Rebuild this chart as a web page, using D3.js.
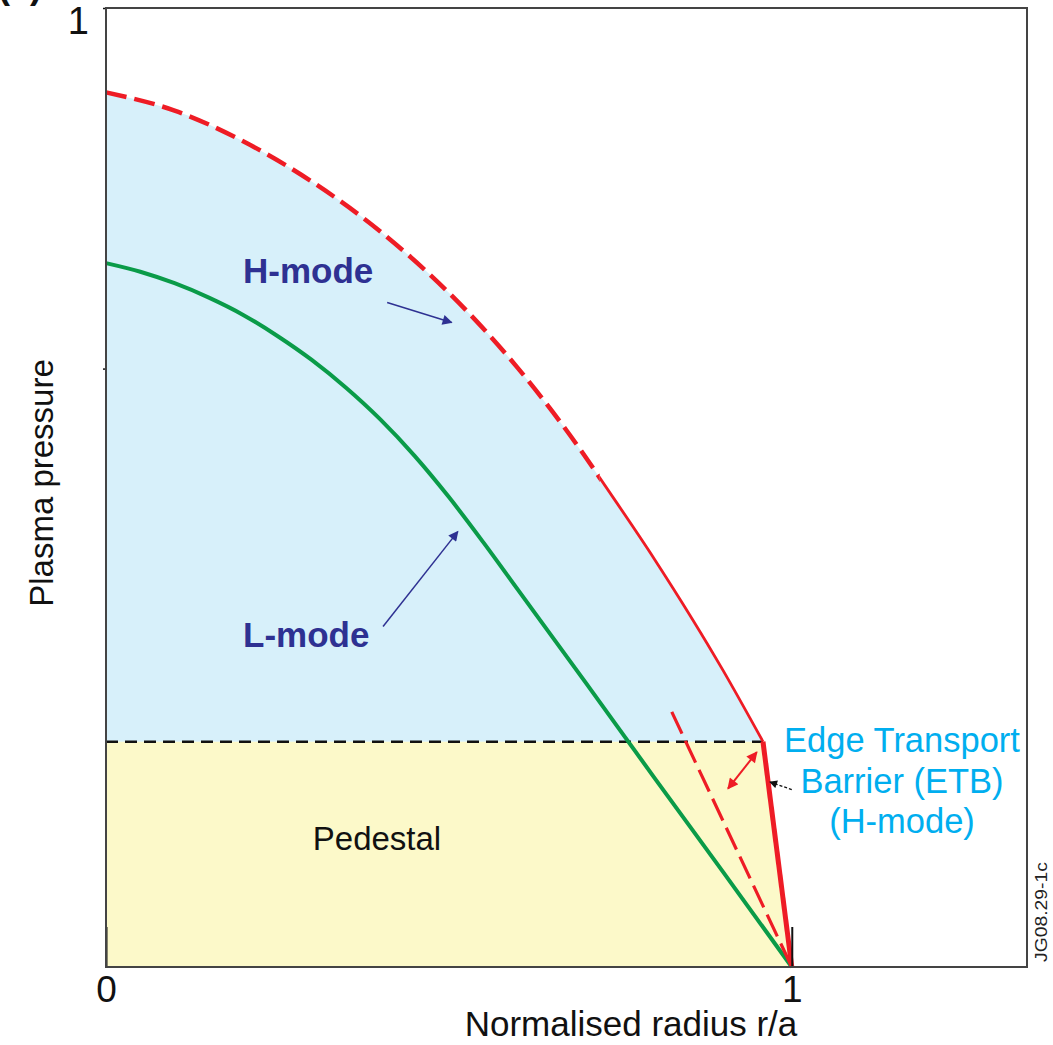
<!DOCTYPE html>
<html>
<head>
<meta charset="utf-8">
<script src="https://cdn.jsdelivr.net/npm/d3@7"></script>
<style>
  html, body { margin: 0; padding: 0; background: #fff; }
  svg { display: block; font-family: "Liberation Sans", Arial, sans-serif; }
</style>
</head>
<body>
<svg id="chart" width="1053" height="1045"></svg>
<script>
// Pressure profiles versus normalised radius (schematic)
const hModeR = [0, 0.1, 0.2, 0.3, 0.4, 0.5, 0.6, 0.7, 0.72, 0.8, 0.9, 0.958, 1.0];
const hModeP = [0.912, 0.893, 0.861, 0.819, 0.767, 0.703, 0.625, 0.531, 0.510, 0.425, 0.309, 0.235, 0];
const hDashedUntil = 0.72;  // core profile drawn dashed up to this radius
const hEtbStart = 11;       // steep edge gradient begins at this point

const lModeR = [0, 0.05, 0.1, 0.15, 0.2, 0.25, 0.3, 0.35, 0.4, 0.45, 0.5, 0.55, 0.6, 0.7, 0.8, 0.9, 1.0];
const lModeP = [0.734, 0.725, 0.713, 0.698, 0.680, 0.658, 0.633, 0.604, 0.571, 0.533, 0.490, 0.443, 0.394, 0.296, 0.197, 0.099, 0];

const pedestalP = 0.235;
const etbAltR = [0.825, 1.0];   // shallower edge gradient
const etbAltP = [0.266, 0];

const xTicks = [0, 1];
const yTicks = [0.624, 1];
const yTickLabels = ["", "1"];

const svg = d3.select("#chart");
const xMax = 1.343;
const x = d3.scaleLinear([0, xMax], [106, 1027]);
const y = d3.scaleLinear([0, 1], [967, 8]);

const hPts = hModeR.map((r, i) => [r, hModeP[i]]);
const lPts = lModeR.map((r, i) => [r, lModeP[i]]);
const hCore = hPts.slice(0, hEtbStart + 1);
const hEdge = hPts.slice(hEtbStart);

const lineMono = d3.line().x(d => x(d[0])).y(d => y(d[1])).curve(d3.curveMonotoneX);
const lineLin = d3.line().x(d => x(d[0])).y(d => y(d[1]));

const defs = svg.append("defs");
function clipRect(id, x0, y0, w, h) {
  defs.append("clipPath").attr("id", id)
    .append("rect").attr("x", x0).attr("y", y0).attr("width", w).attr("height", h);
}
clipRect("above-ped", x(0), 0, x(xMax) - x(0), y(pedestalP));
clipRect("below-ped", x(0), y(pedestalP), x(xMax) - x(0), y(0) - y(pedestalP));
clipRect("core-inner", 0, 0, x(hDashedUntil), 1045);
clipRect("core-outer", x(hDashedUntil), 0, 1053 - x(hDashedUntil), 1045);

function marker(id, color, w, h) {
  defs.append("marker").attr("id", id)
    .attr("viewBox", "0 0 10 10").attr("refX", 9).attr("refY", 5)
    .attr("markerUnits", "userSpaceOnUse")
    .attr("markerWidth", w).attr("markerHeight", h)
    .attr("orient", "auto-start-reverse")
    .append("path").attr("d", "M0,0 L10,5 L0,10 Z").attr("fill", color);
}
marker("arr-navy", "#2E3192", 11, 10);
marker("arr-red", "#EE1C25", 12, 11);
marker("arr-black", "#111", 9, 8);

// region under the H-mode profile
const fillPath = lineMono(hCore) +
  lineLin(hEdge).replace(/^M/, "L") +
  "L" + x(0) + "," + y(0) + "Z";

svg.append("path").attr("d", fillPath).attr("fill", "#D7F0FA").attr("clip-path", "url(#above-ped)");
svg.append("path").attr("d", fillPath).attr("fill", "#FCF9C9").attr("clip-path", "url(#below-ped)");

// pedestal level
svg.append("line")
  .attr("x1", x(0)).attr("x2", x(hModeR[hEtbStart]))
  .attr("y1", y(pedestalP)).attr("y2", y(pedestalP))
  .attr("stroke", "#111").attr("stroke-width", 2.5).attr("stroke-dasharray", "12,7");

// L-mode profile
svg.append("path").attr("d", lineMono(lPts))
  .attr("fill", "none").attr("stroke", "#0A9B48").attr("stroke-width", 4);

// H-mode profile: dashed core, solid outer part, steep edge
svg.append("path").attr("d", lineMono(hCore)).attr("clip-path", "url(#core-inner)")
  .attr("fill", "none").attr("stroke", "#EE1C25").attr("stroke-width", 4.5)
  .attr("stroke-dasharray", "21,8");
svg.append("path").attr("d", lineMono(hCore)).attr("clip-path", "url(#core-outer)")
  .attr("fill", "none").attr("stroke", "#EE1C25").attr("stroke-width", 2.8);
svg.append("path").attr("d", lineLin(hEdge))
  .attr("fill", "none").attr("stroke", "#EE1C25").attr("stroke-width", 5);

// shallower edge gradient
svg.append("path").attr("d", lineLin(etbAltR.map((r, i) => [r, etbAltP[i]])))
  .attr("fill", "none").attr("stroke", "#EE1C25").attr("stroke-width", 3.2)
  .attr("stroke-dasharray", "24,8");

// double arrow between the two edge gradients
svg.append("line")
  .attr("x1", x(0.907)).attr("y1", y(0.186))
  .attr("x2", x(0.949)).attr("y2", y(0.224))
  .attr("stroke", "#EE1C25").attr("stroke-width", 2)
  .attr("marker-start", "url(#arr-red)").attr("marker-end", "url(#arr-red)");

// pointer to the barrier
svg.append("line")
  .attr("x1", x(1.0)).attr("y1", y(0.185))
  .attr("x2", x(0.968)).attr("y2", y(0.193))
  .attr("stroke", "#111").attr("stroke-width", 1.3).attr("stroke-dasharray", "3,2")
  .attr("marker-end", "url(#arr-black)");

// profile labels and pointers
svg.append("line")
  .attr("x1", x(0.410)).attr("y1", y(0.693)).attr("x2", x(0.504)).attr("y2", y(0.672))
  .attr("stroke", "#2E3192").attr("stroke-width", 1.5).attr("marker-end", "url(#arr-navy)");
svg.append("line")
  .attr("x1", x(0.404)).attr("y1", y(0.355)).attr("x2", x(0.513)).attr("y2", y(0.454))
  .attr("stroke", "#2E3192").attr("stroke-width", 1.5).attr("marker-end", "url(#arr-navy)");

svg.append("text").attr("x", 243).attr("y", 283).text("H-mode")
  .attr("font-size", 35).attr("font-weight", "bold").attr("fill", "#2E3192");
svg.append("text").attr("x", 243).attr("y", 647).text("L-mode")
  .attr("font-size", 35).attr("font-weight", "bold").attr("fill", "#2E3192");
svg.append("text").attr("x", 377).attr("y", 850).attr("text-anchor", "middle").text("Pedestal")
  .attr("font-size", 33).attr("fill", "#111");

const etbLines = ["Edge Transport", "Barrier (ETB)", "(H-mode)"];
svg.append("g").selectAll("text").data(etbLines).join("text")
  .attr("x", 902).attr("y", (d, i) => 752 + i * 40.5)
  .attr("text-anchor", "middle").attr("font-size", 34.5).attr("fill", "#00AEEF")
  .text(d => d);

// axes
const xAxis = d3.axisBottom(x).tickValues(xTicks).tickFormat(d3.format("d"))
  .tickSizeInner(-40).tickSizeOuter(0).tickPadding(9);
const gx = svg.append("g").attr("transform", `translate(0,${y(0)})`).call(xAxis);
gx.select(".domain").remove();
gx.selectAll(".tick line").attr("stroke", "#111").attr("stroke-width", 2);
gx.selectAll(".tick text").attr("font-size", 37).attr("fill", "#111")
  .attr("font-family", "'Liberation Sans Narrow', 'Liberation Sans', Arial, sans-serif");

const yAxis = d3.axisLeft(y).tickValues(yTicks).tickFormat((d, i) => yTickLabels[i])
  .tickSize(3).tickPadding(14);
const gy = svg.append("g").attr("transform", `translate(${x(0)},0)`).call(yAxis);
gy.select(".domain").remove();
gy.selectAll(".tick line").attr("stroke", "#111").attr("stroke-width", 1.5);
gy.selectAll(".tick text").attr("font-size", 38).attr("fill", "#111").attr("dy", "0.66em")
  .attr("font-family", "'Liberation Sans Narrow', 'Liberation Sans', Arial, sans-serif");

// frame
svg.append("rect").attr("x", x(0)).attr("y", y(1))
  .attr("width", x(xMax) - x(0)).attr("height", y(0) - y(1))
  .attr("fill", "none").attr("stroke", "#444").attr("stroke-width", 2);

// axis titles
svg.append("text").attr("x", 631).attr("y", 1036).attr("text-anchor", "middle")
  .attr("font-size", 35).attr("fill", "#111").text("Normalised radius r/a");
svg.append("text").attr("transform", "translate(53,483) rotate(-90)").attr("text-anchor", "middle")
  .attr("font-size", 33).attr("fill", "#111").text("Plasma pressure");

// figure reference
svg.append("text").attr("transform", "translate(1047,912) rotate(-90)").attr("text-anchor", "middle")
  .attr("font-size", 16).attr("fill", "#222")
  .attr("textLength", 100).attr("lengthAdjust", "spacingAndGlyphs").text("JG08.29-1c");

// panel tag running off the top edge
svg.append("text").attr("x", -2).attr("y", -2).attr("font-size", 36).attr("font-weight", "bold")
  .attr("fill", "#111").text("(a)");
</script>
</body>
</html>
